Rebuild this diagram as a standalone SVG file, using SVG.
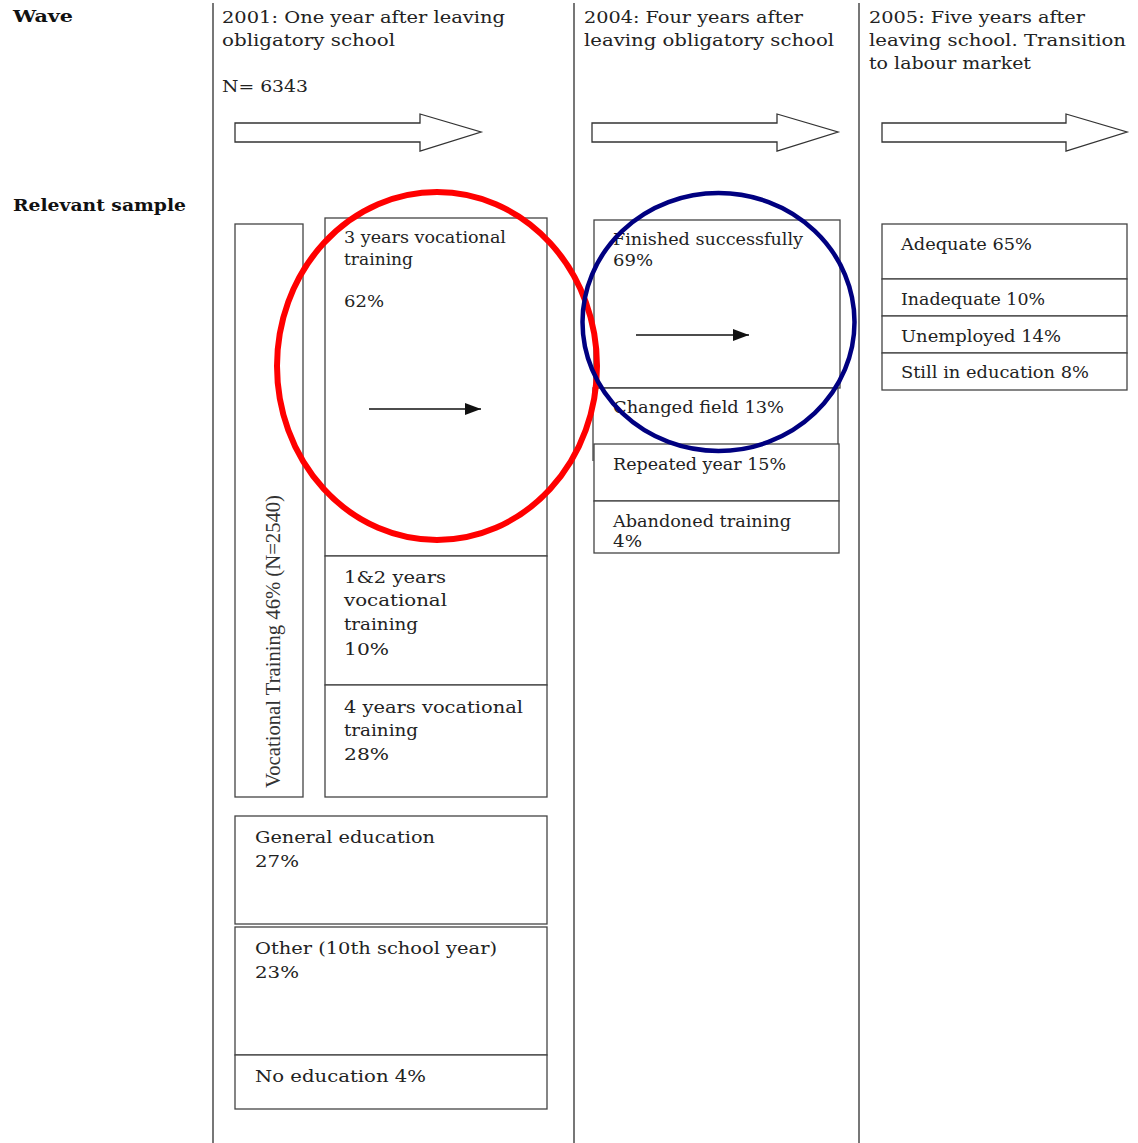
<svg xmlns="http://www.w3.org/2000/svg" width="1138" height="1143" viewBox="0 0 1138 1143">
<style>
.t{font-family:"DejaVu Serif","Liberation Serif",serif;font-size:16px;fill:#222}
.h{font-family:"DejaVu Serif","Liberation Serif",serif;font-size:17px;fill:#222}
.b{font-family:"DejaVu Serif","Liberation Serif",serif;font-size:17px;font-weight:bold;fill:#111}
.box{fill:#fff;stroke:#444;stroke-width:1.3}
.col{stroke:#555;stroke-width:1.6}
.blk{fill:#fff;stroke:#333;stroke-width:1.3}
.ln{stroke:#111;stroke-width:1.3;fill:none}
</style>
<defs>
<marker id="ah" markerWidth="10" markerHeight="8" refX="10" refY="4" orient="auto" markerUnits="userSpaceOnUse" viewBox="0 0 10 8">
<path d="M0,0 L10,4 L0,8 Z" fill="#111"/>
</marker>
<marker id="ah2" markerWidth="16" markerHeight="12" refX="16" refY="6" orient="auto" markerUnits="userSpaceOnUse" viewBox="0 0 16 12">
<path d="M0,0 L16,6 L0,12 Z" fill="#111"/>
</marker>
</defs>
<rect width="1138" height="1143" fill="#fff"/>
<g id="columns">
<line class="col" x1="213" y1="3" x2="213" y2="1143"/>
<line class="col" x1="574" y1="3" x2="574" y2="1143"/>
<line class="col" x1="859" y1="3" x2="859" y2="1143"/>
</g>
<g id="headers">
<text class="b" x="13" y="22" textLength="60" lengthAdjust="spacingAndGlyphs">Wave</text>
<text class="b" x="13" y="211" textLength="173" lengthAdjust="spacingAndGlyphs">Relevant sample</text>
<text class="h" x="222" y="23" textLength="283" lengthAdjust="spacingAndGlyphs">2001: One year after leaving</text>
<text class="h" x="222" y="46" textLength="173" lengthAdjust="spacingAndGlyphs">obligatory school</text>
<text class="h" x="222" y="92" textLength="86" lengthAdjust="spacingAndGlyphs">N= 6343</text>
<text class="h" x="584" y="23" textLength="219" lengthAdjust="spacingAndGlyphs">2004: Four years after</text>
<text class="h" x="584" y="46" textLength="250" lengthAdjust="spacingAndGlyphs">leaving obligatory school</text>
<text class="h" x="869" y="23" textLength="216" lengthAdjust="spacingAndGlyphs">2005: Five years after</text>
<text class="h" x="869" y="46" textLength="257" lengthAdjust="spacingAndGlyphs">leaving school. Transition</text>
<text class="h" x="869" y="69" textLength="162" lengthAdjust="spacingAndGlyphs">to labour market</text>
</g>
<g id="wave-arrows">
<path class="blk" d="M235,123 H420 V114 L481,132 L420,151 V142 H235 Z"/>
<path class="blk" d="M592,123 H777 V114 L838,132 L777,151 V142 H592 Z"/>
<path class="blk" d="M882,123 H1066 V114 L1127,132 L1066,151 V142 H882 Z"/>
</g>
<g id="vocational-total">
<rect class="box" x="235" y="224" width="68" height="573"/>
<text transform="translate(280,788) rotate(-90)" x="0" y="0" style="font-family:'Liberation Serif',serif;font-size:20px;fill:#333" textLength="293" lengthAdjust="spacingAndGlyphs">Vocational Training 46% (N=2540)</text>
</g>
<g id="voc3">
<rect class="box" x="325" y="218" width="222" height="338"/>
<text class="t" x="344" y="243" textLength="162" lengthAdjust="spacingAndGlyphs">3 years vocational</text>
<text class="t" x="344" y="265" textLength="69" lengthAdjust="spacingAndGlyphs">training</text>
<text class="t" x="344" y="307" textLength="40" lengthAdjust="spacingAndGlyphs">62%</text>
</g>
<g id="voc12">
<rect class="box" x="325" y="556" width="222" height="129"/>
<text class="h" x="344" y="583" textLength="102" lengthAdjust="spacingAndGlyphs">1&amp;2 years</text>
<text class="h" x="344" y="606" textLength="103" lengthAdjust="spacingAndGlyphs">vocational</text>
<text class="h" x="344" y="630" textLength="74" lengthAdjust="spacingAndGlyphs">training</text>
<text class="h" x="344" y="655" textLength="45" lengthAdjust="spacingAndGlyphs">10%</text>
</g>
<g id="voc4">
<rect class="box" x="325" y="685" width="222" height="112"/>
<text class="h" x="344" y="713" textLength="179" lengthAdjust="spacingAndGlyphs">4 years vocational</text>
<text class="h" x="344" y="736" textLength="74" lengthAdjust="spacingAndGlyphs">training</text>
<text class="h" x="344" y="760" textLength="45" lengthAdjust="spacingAndGlyphs">28%</text>
</g>
<g id="general">
<rect class="box" x="235" y="816" width="312" height="108"/>
<text class="h" x="255" y="843" textLength="180" lengthAdjust="spacingAndGlyphs">General education</text>
<text class="h" x="255" y="867" textLength="44" lengthAdjust="spacingAndGlyphs">27%</text>
</g>
<g id="other">
<rect class="box" x="235" y="927" width="312" height="128"/>
<text class="h" x="255" y="954" textLength="242" lengthAdjust="spacingAndGlyphs">Other (10th school year)</text>
<text class="h" x="255" y="978" textLength="44" lengthAdjust="spacingAndGlyphs">23%</text>
</g>
<g id="noedu">
<rect class="box" x="235" y="1055" width="312" height="54"/>
<text class="h" x="255" y="1082" textLength="171" lengthAdjust="spacingAndGlyphs">No education 4%</text>
</g>
<g id="finished">
<rect class="box" x="594" y="220" width="246" height="168"/>
<text class="t" x="613" y="245" textLength="190" lengthAdjust="spacingAndGlyphs">Finished successfully</text>
<text class="t" x="613" y="266" textLength="40" lengthAdjust="spacingAndGlyphs">69%</text>
</g>
<g id="changed">
<path class="box" d="M593,461 V388 H838 V444"/>
<text class="t" x="613" y="413" textLength="171" lengthAdjust="spacingAndGlyphs">Changed field 13%</text>
</g>
<g id="repeated">
<rect class="box" x="594" y="444" width="245" height="57"/>
<text class="t" x="613" y="470" textLength="173" lengthAdjust="spacingAndGlyphs">Repeated year 15%</text>
</g>
<g id="abandoned">
<rect class="box" x="594" y="501" width="245" height="52"/>
<text class="t" x="613" y="527" textLength="178" lengthAdjust="spacingAndGlyphs">Abandoned training</text>
<text class="t" x="613" y="547" textLength="29" lengthAdjust="spacingAndGlyphs">4%</text>
</g>
<g id="adequate">
<rect class="box" x="882" y="224" width="245" height="55"/>
<text class="t" x="901" y="250" textLength="131" lengthAdjust="spacingAndGlyphs">Adequate 65%</text>
</g>
<g id="inadequate">
<rect class="box" x="882" y="279" width="245" height="37"/>
<text class="t" x="901" y="305" textLength="144" lengthAdjust="spacingAndGlyphs">Inadequate 10%</text>
</g>
<g id="unemployed">
<rect class="box" x="882" y="316" width="245" height="37"/>
<text class="t" x="901" y="342" textLength="160" lengthAdjust="spacingAndGlyphs">Unemployed 14%</text>
</g>
<g id="still">
<rect class="box" x="882" y="353" width="245" height="37"/>
<text class="t" x="901" y="378" textLength="188" lengthAdjust="spacingAndGlyphs">Still in education 8%</text>
</g>
<g id="connectors">
<line class="ln" x1="369" y1="409" x2="481" y2="409" marker-end="url(#ah2)"/>
<line class="ln" x1="636" y1="335" x2="749" y2="335" marker-end="url(#ah2)"/>
</g>
<g id="highlights">
<ellipse cx="437" cy="366" rx="160" ry="174" fill="none" stroke="#f00" stroke-width="6"/>
<ellipse cx="718.5" cy="322" rx="136" ry="129" fill="none" stroke="#000080" stroke-width="4.5"/>
</g>
</svg>
